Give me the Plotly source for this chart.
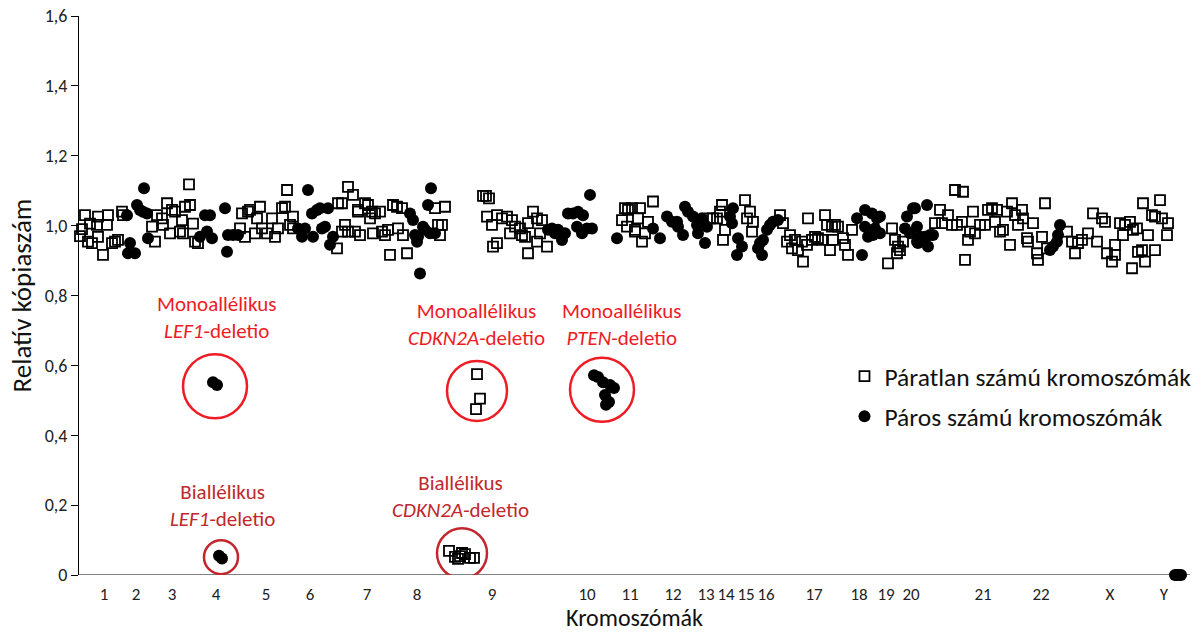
import plotly.graph_objects as go

# ---------------- data ----------------
# x = probe position along the genome (arbitrary index units), y = relative copy number
chrom_labels = ["1", "2", "3", "4", "5", "6", "7", "8", "9", "10", "11", "12",
                "13", "14", "15", "16", "17", "18", "19", "20", "21", "22", "X", "Y"]
chrom_pos = [25, 57, 93, 137, 187, 231, 288, 338, 413, 508, 551, 594,
             627, 647, 667, 687, 735, 780, 807, 832, 904, 962, 1031, 1085]

# odd chromosomes (open squares)
odd_x = (
    [1, 3, 6, 9, 11, 13, 18, 19, 19, 24, 28, 29, 33, 36, 39, 43, 44]                      # chr1
    + [73, 76, 78, 83, 84, 88, 91, 93, 96, 101, 103, 104, 106, 110, 111, 114, 116, 119]   # chr3
    + [161, 163, 166, 169, 171, 176, 178, 181, 183, 188, 193, 196, 199, 203, 206, 208,
       211, 214, 214]                                                                   # chr5
    + [258, 259, 263, 263, 266, 269, 269, 274, 276, 279, 279, 281, 286, 289, 291, 293,
       294, 296, 301, 303, 306, 309, 311, 314, 318, 319, 323, 324, 328]                 # chr7
    + [356, 359, 361, 363, 366]                                                         # chr9 p
    + [370, 376, 379, 381, 383, 386, 391, 395]                                          # CDKN2A biall.
    + [398, 401, 397]                                                                   # CDKN2A monoall.
    + [404, 407, 410, 408, 413, 414, 418, 418, 423, 428, 431, 433, 436, 441, 443, 446,
       449, 449, 454, 458, 458, 461, 463, 468]                                          # chr9
    + [543, 546, 548, 549, 553, 556, 556, 559, 561, 563, 566, 569, 574]                 # chr11
    + [631, 634, 638, 641, 643, 644, 646]                                               # chr13
    + [666, 668, 671, 673, 674]                                                         # chr15
    + [701, 704, 708, 711, 713, 716, 719, 723, 724, 728, 729, 733, 736, 739, 743, 746,
       748, 751, 753, 754, 756, 759, 764, 766, 769, 773]                                # chr17
    + [809, 813, 816, 818, 819, 821, 824]                                               # chr19
    + [856, 861, 863, 869, 873, 876, 878, 883, 884, 886, 889, 891, 894, 896, 901, 906,
       909, 913, 916, 918, 921, 924, 928, 931, 933, 936, 939, 943, 944, 948, 949, 954,
       958, 959, 963, 966, 968]                                                         # chr21
    + [988, 993, 996, 999, 1003, 1009, 1014, 1018, 1023, 1026, 1028, 1033, 1036, 1036,
       1041, 1044, 1046, 1051, 1053, 1054, 1058, 1059, 1063, 1064, 1066, 1069, 1073,
       1076, 1076, 1081, 1083, 1088, 1089]                                              # chr22/X
)
odd_y = (
    [0.97, 0.99, 1.03, 0.954, 1.006, 0.95, 1.002, 1.026, 0.968, 0.916, 1.002, 1.03, 0.95,
     0.954, 0.959, 1.04, 1.03]
    + [0.997, 0.954, 1.03, 1.021, 1.002, 1.064, 0.978, 1.045, 1.04, 0.983, 1.016, 0.978,
       1.054, 1.118, 1.059, 1.006, 0.954, 0.95]
    + [0.992, 1.035, 0.968, 1.04, 1.045, 0.978, 1.021, 1.054, 0.992, 0.978, 1.021, 0.968,
       0.992, 1.05, 1.054, 1.102, 1.002, 1.026, 0.992]
    + [0.935, 1.064, 1.064, 0.983, 1.002, 1.111, 0.983, 1.088, 0.983, 1.045, 1.04, 0.973,
       1.064, 1.059, 1.021, 1.04, 0.978, 1.035, 1.04, 0.983, 0.973, 0.988, 0.916, 1.059,
       1.054, 0.992, 1.05, 0.973, 0.921]
    + [1.05, 1.002, 0.973, 1.002, 1.054]
    + [0.069, 0.052, 0.046, 0.054, 0.063, 0.06, 0.049, 0.049]
    + [0.575, 0.505, 0.475]
    + [1.085, 1.085, 1.078, 1.026, 1.002, 0.94, 1.03, 0.95, 1.021, 1.026, 0.978, 1.016,
       0.997, 0.992, 0.973, 0.968, 1.007, 0.921, 1.04, 1.021, 0.954, 0.978, 1.016, 0.94]
    + [1.016, 1.05, 0.997, 1.045, 1.05, 0.983, 0.988, 1.021, 1.05, 0.954, 0.978, 1.011,
       1.069]
    + [1.021, 1.021, 1.021, 1.04, 1.059, 0.959, 0.988]
    + [1.073, 1.021, 1.04, 0.983, 1.011]
    + [1.03, 1.007, 0.954, 0.973, 0.935, 0.959, 0.93, 0.954, 0.897, 0.945, 1.021, 0.959,
       0.968, 0.964, 0.959, 1.03, 1.002, 0.93, 0.997, 0.959, 1.002, 0.997, 0.964, 0.945,
       0.916, 0.988]
    + [0.892, 0.992, 0.959, 0.921, 0.94, 0.93, 0.954]
    + [1.007, 1.045, 1.007, 1.03, 1.002, 1.102, 1.002, 1.011, 1.097, 0.902, 0.959, 0.983,
       1.04, 0.978, 1.002, 1.002, 1.045, 1.05, 1.011, 1.045, 0.983, 0.988, 1.04, 0.945,
       1.064, 1.03, 1.002, 1.045, 1.021, 0.964, 0.954, 1.007, 0.921, 0.902, 0.968, 1.064,
       0.935]
    + [0.983, 0.954, 0.921, 0.95, 0.959, 0.978, 1.035, 0.954, 1.021, 1.011, 0.921, 0.897,
       0.916, 0.945, 1.007, 0.973, 1.002, 1.011, 0.878, 0.988, 0.992, 0.925, 0.93, 1.064,
       0.897, 0.973, 1.03, 1.026, 0.93, 1.073, 1.021, 0.973, 1.007]
)

# even chromosomes (filled circles)
even_x = (
    [48, 49, 51, 56, 58, 61, 64, 65, 68, 69]                                            # chr2
    + [121, 126, 128, 131, 133, 146, 148, 149, 154, 159]                                # chr4
    + [134, 138]                                                                        # LEF1 monoall.
    + [140, 143]                                                                        # LEF1 biall.
    + [219, 223, 226, 229, 233, 234, 238, 241, 243, 246, 249, 251, 254]                 # chr6
    + [331, 334, 336, 338, 339, 341, 344, 346, 349, 351, 352, 356]                      # chr8
    + [469, 473, 476, 479, 483, 486, 489, 494, 498, 499, 503, 504, 508, 511, 513, 538]  # chr10
    + [515, 519, 524, 531, 535, 526, 530, 527]                                          # PTEN monoall.
    + [574, 581, 588, 593, 598, 599, 604, 606, 609, 614, 618, 619, 623, 626, 628]       # chr12
    + [651, 653, 654, 658, 659, 663]                                                    # chr14
    + [679, 681, 683, 684, 688, 691, 694, 699]                                          # chr16
    + [778, 783, 786, 786, 789, 793, 794, 796, 798, 801, 801]                           # chr18
    + [826, 828, 831, 834, 836, 838, 838, 839, 841, 846, 848, 849, 851, 854]            # chr20
    + [971, 974, 978, 979, 981]                                                         # chr22
    + [1096, 1098, 1100, 1102]                                                          # chrY
)
even_y = (
    [1.03, 0.921, 0.95, 0.921, 1.059, 1.045, 1.04, 1.107, 1.035, 0.964]
    + [0.968, 1.03, 0.983, 1.03, 0.964, 1.05, 0.925, 0.973, 0.973, 0.973]
    + [0.552, 0.544]
    + [0.055, 0.047]
    + [0.992, 0.968, 0.992, 1.102, 1.035, 0.968, 1.045, 1.05, 0.992, 0.997, 1.05, 0.945,
       0.968]
    + [1.035, 1.016, 0.973, 0.954, 0.968, 0.863, 0.997, 0.988, 1.059, 0.978, 1.107, 0.978]
    + [0.988, 0.992, 0.978, 0.988, 0.959, 0.978, 1.035, 1.035, 0.997, 1.04, 0.978, 1.03,
       0.992, 1.088, 0.992, 0.964]
    + [0.572, 0.567, 0.552, 0.544, 0.535, 0.515, 0.495, 0.487]
    + [0.992, 0.964, 1.026, 1.011, 1.011, 0.997, 0.973, 1.054, 1.04, 1.026, 1.002, 0.978,
       1.021, 0.95, 0.997]
    + [1.026, 1.007, 1.05, 0.916, 0.964, 0.94]
    + [0.935, 0.95, 0.916, 0.959, 0.988, 1.002, 1.011, 1.016]
    + [1.021, 0.916, 1.045, 0.997, 0.968, 1.035, 0.973, 0.992, 1.021, 1.026, 0.978]
    + [0.992, 1.026, 0.978, 1.05, 1.05, 0.954, 0.997, 0.95, 0.968, 0.968, 1.059, 0.94,
       0.973, 0.973]
    + [0.93, 0.94, 0.954, 0.973, 1.002]
    + [0, 0, 0, 0]
)

y_tickvals = [0, 0.2, 0.4, 0.6, 0.8, 1.0, 1.2, 1.4, 1.6]
y_ticktext = ["0", "0,2", "0,4", "0,6", "0,8", "1,0", "1,2", "1,4", "1,6"]

# callouts: (label, text x, text y, circle x, circle y, radius px, style)
callouts = [
    ("Monoallélikus<br><i>LEF1</i>-deletio", 137, 0.736, 136, 0.540, 32, "mono"),
    ("Biallélikus<br><i>LEF1</i>-deletio", 143, 0.200, 142, 0.051, 17, "bi"),
    ("Monoallélikus<br><i>CDKN2A</i>-deletio", 397, 0.716, 398, 0.527, 30, "mono"),
    ("Biallélikus<br><i>CDKN2A</i>-deletio", 381, 0.226, 383, 0.062, 25, "bi"),
    ("Monoallélikus<br><i>PTEN</i>-deletio", 542, 0.716, 523, 0.530, 32, "mono"),
]

# ---------------- figure ----------------
FONT = "Carlito, Lato, sans-serif"
MONO_RED = "#EE1C25"
BI_RED = "#C1272D"

fig = go.Figure()
fig.add_trace(go.Scatter(
    x=odd_x, y=odd_y, mode="markers", name="Páratlan számú kromoszómák",
    legendgroup="a",
    marker=dict(symbol="square-open", size=10, color="black", line=dict(width=1.8, color="black")),
    cliponaxis=False,
))
fig.add_trace(go.Scatter(
    x=even_x, y=even_y, mode="markers", name="Páros számú kromoszómák",
    legendgroup="b",
    marker=dict(symbol="circle", size=12, color="black"),
    cliponaxis=False,
))

for text, tx, ty, cx, cy, r, style in callouts:
    col = MONO_RED if style == "mono" else BI_RED
    fig.add_annotation(x=tx, y=ty, xref="x", yref="y", text=text, showarrow=False,
                       font=dict(family=FONT, size=21, color=col),
                       xanchor="center", yanchor="middle", align="center")
    fig.add_shape(type="circle", xref="x", yref="y", xsizemode="pixel", ysizemode="pixel",
                  xanchor=cx, yanchor=cy, x0=-r, x1=r, y0=-r, y1=r,
                  line=dict(color=col, width=2.5), layer="above")

fig.update_layout(
    width=1203, height=632,
    margin=dict(l=79, r=13, t=16, b=57, autoexpand=False),
    paper_bgcolor="white", plot_bgcolor="white",
    font=dict(family=FONT, color="#222222"),
    showlegend=True,
    legend=dict(x=0.689, y=0.397, xanchor="left", yanchor="top",
                font=dict(family=FONT, size=25.5, color="#111111"),
                bgcolor="rgba(0,0,0,0)", tracegroupgap=4, itemwidth=30),
    xaxis=dict(range=[0, 1111], showgrid=False, zeroline=False, automargin=False,
               showline=False, tickvals=chrom_pos, ticktext=chrom_labels,
               ticks="", tickangle=0, tickfont=dict(family=FONT, size=17, color="#222222"),
               ticklabelstandoff=7,
               title=dict(text="Kromoszómák", font=dict(family=FONT, size=24, color="#111111"),
                          standoff=8)),
    yaxis=dict(range=[0, 1.6], showgrid=False, zeroline=False, automargin=False,
               showline=True, linecolor="black", linewidth=1,
               tickvals=y_tickvals, ticktext=y_ticktext,
               ticks="outside", ticklen=7, tickcolor="black", tickwidth=1,
               tickfont=dict(family=FONT, size=18, color="#222222"),
               title=dict(text="Relatív kópiaszám", font=dict(family=FONT, size=27, color="#111111"),
                          standoff=5)),
)
# x-axis baseline at y = 0
fig.add_shape(type="line", xref="paper", yref="y", x0=0, x1=1, y0=0, y1=0,
              line=dict(color="black", width=1), layer="below")

fig.write_html("out.html", config={"displayModeBar": False},
               post_script="document.body.style.margin='0';")
